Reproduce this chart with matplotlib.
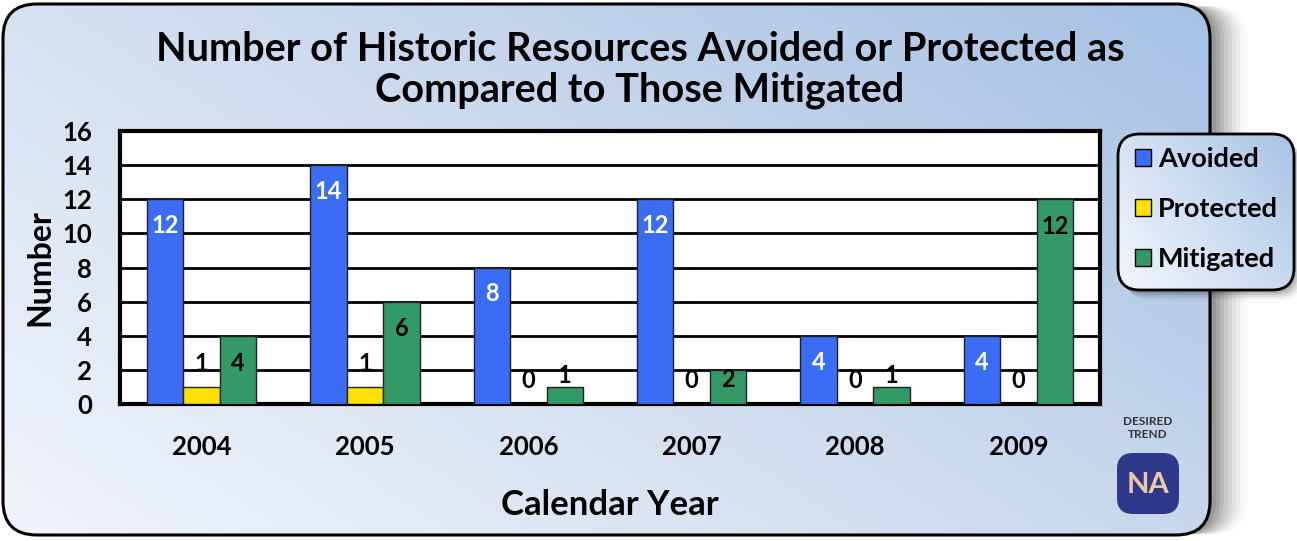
import numpy as np
import matplotlib
matplotlib.use("Agg")
import matplotlib.pyplot as plt
from matplotlib.patches import FancyBboxPatch, Patch
from matplotlib.colors import LinearSegmentedColormap

# data
years = ["2004", "2005", "2006", "2007", "2008", "2009"]
avoided = [12, 14, 8, 12, 4, 4]
protected = [1, 1, 0, 0, 0, 0]
mitigated = [4, 6, 1, 2, 1, 12]
yticks = [0, 2, 4, 6, 8, 10, 12, 14, 16]

c_avoided = "#3a6cf6"
c_protected = "#ffe000"
c_mitigated = "#339966"

plt.rcParams['font.family'] = ['Lato', 'DejaVu Sans']
plt.rcParams['font.weight'] = 'bold'

W, H = 1297, 541
fig = plt.figure(figsize=(W / 100, H / 100), dpi=100)
fig.patch.set_facecolor("white")

# background panel in pixel coordinates
bg = fig.add_axes([0, 0, 1, 1])
bg.set_xlim(0, W)
bg.set_ylim(H, 0)
bg.axis("off")

# soft shadow to the right of the panel
for i, a in enumerate(np.linspace(0.10, 0.015, 10)):
    sh = FancyBboxPatch((8 + i * 4, 6), 1204, 528, boxstyle="round,pad=0,rounding_size=34",
                        facecolor="#000000", edgecolor="none", alpha=a, zorder=0)
    bg.add_patch(sh)

cmap = LinearSegmentedColormap.from_list("panel", ["#f1f5fb", "#cfdcee", "#a6c1e4"])
gx, gy = np.meshgrid(np.linspace(0, 1, 300), np.linspace(0, 1, 120))
grad = 0.6 * gx + 0.4 * (1 - gy)
panel = FancyBboxPatch((3, 4), 1207, 531, boxstyle="round,pad=0,rounding_size=34",
                       facecolor="none", edgecolor="black", linewidth=2.2, zorder=3)
bg.add_patch(panel)
im = bg.imshow(grad, cmap=cmap, extent=(3, 1210, 535, 4), aspect="auto", zorder=1)
im.set_clip_path(panel)

# title
fig.text(640 / W, 1 - 70 / H, "Number of Historic Resources Avoided or Protected as\nCompared to Those Mitigated",
         ha="center", va="center", fontsize=28.5, fontweight="bold", linespacing=1.12)

# main chart
ax = fig.add_axes([120 / W, 1 - 404 / H, 980 / W, 273 / H])
ax.set_facecolor("white")
x = np.arange(len(years))
w = 0.223
ax.bar(x - w, avoided, w, color=c_avoided, edgecolor="#222222", linewidth=1, zorder=3, label="Avoided")
ax.bar(x, protected, w, color=c_protected, edgecolor="#222222", linewidth=1, zorder=3, label="Protected")
ax.bar(x + w, mitigated, w, color=c_mitigated, edgecolor="#222222", linewidth=1, zorder=3, label="Mitigated")

ax.set_xlim(-0.5, len(years) - 0.5)
ax.set_ylim(0, 16)
ax.set_yticks(yticks)
ax.set_xticks(x)
ax.set_xticklabels(years)
ax.tick_params(axis="x", length=0, labelsize=18.5, pad=22)
ax.tick_params(axis="y", length=0, labelsize=18.5, pad=20)
for lbl in ax.get_xticklabels() + ax.get_yticklabels():
    lbl.set_fontweight("bold")
ax.yaxis.grid(True, color="black", linewidth=2, zorder=1)
ax.set_axisbelow(True)
for s in ax.spines.values():
    s.set_linewidth(3)
    s.set_color("black")

ax.set_ylabel("Number", fontsize=23, fontweight="bold", labelpad=6)
ax.set_xlabel("Calendar Year", fontsize=25, fontweight="bold", labelpad=22)

# value labels
for xi, v in zip(x, avoided):
    ax.text(xi - w, v - 1.55, str(v), ha="center", va="center", color="white",
            fontsize=17, fontweight="bold", zorder=5)
for xi, v in zip(x, protected):
    ax.text(xi, v + 1.4, str(v), ha="center", va="center", color="black",
            fontsize=17, fontweight="bold", zorder=5)
for xi, v in zip(x, mitigated):
    if v > 2:
        ypos = v - 1.6
    elif v == 2:
        ypos = v - 0.55
    else:
        ypos = v + 0.65
    ax.text(xi + w, ypos, str(v), ha="center", va="center", color="black",
            fontsize=17, fontweight="bold", zorder=5)

# legend box with gradient
top = fig.add_axes([0, 0, 1, 1], facecolor="none")
top.set_xlim(0, W)
top.set_ylim(H, 0)
top.axis("off")
for i, a in enumerate(np.linspace(0.12, 0.02, 5)):
    top.add_patch(FancyBboxPatch((1120 + i * 2, 137 + i * 2), 176, 156,
                                 boxstyle="round,pad=0,rounding_size=22",
                                 facecolor="black", edgecolor="none", alpha=a, zorder=4))
lg = FancyBboxPatch((1118, 134), 176, 156, boxstyle="round,pad=0,rounding_size=22",
                    facecolor="none", edgecolor="black", linewidth=2, zorder=6)
top.add_patch(lg)
lim = top.imshow(grad, cmap=LinearSegmentedColormap.from_list("lg", ["#f4f7fc", "#a9c4e6"]),
                 extent=(1118, 1294, 290, 134), aspect="auto", zorder=5)
lim.set_clip_path(lg)

handles = [Patch(facecolor=c_avoided, edgecolor="black"),
           Patch(facecolor=c_protected, edgecolor="black"),
           Patch(facecolor=c_mitigated, edgecolor="black")]
leg = top.legend(handles, ["Avoided", "Protected", "Mitigated"], loc="center left",
                 bbox_to_anchor=(1124 / W, 1 - 209 / H), frameon=False,
                 prop={"size": 19.5, "weight": "bold"}, handlelength=0.6, handleheight=0.6,
                 handletextpad=0.25, labelspacing=0.95, borderaxespad=0)
leg.set_zorder(7)

# desired trend badge
fig.text(1148 / W, 1 - 428 / H, "DESIRED\nTREND", ha="center", va="center",
         fontsize=8.5, fontweight="bold", color="#333333", linespacing=1.15)
top.add_patch(FancyBboxPatch((1117, 453), 62, 61, boxstyle="round,pad=0,rounding_size=16",
                             facecolor="#2e398b", edgecolor="none", zorder=6))
top.text(1148, 485, "NA", ha="center", va="center", fontsize=21, fontweight="bold",
         color="#ecc9a2", zorder=7)

fig.savefig("out.png", dpi=100)
